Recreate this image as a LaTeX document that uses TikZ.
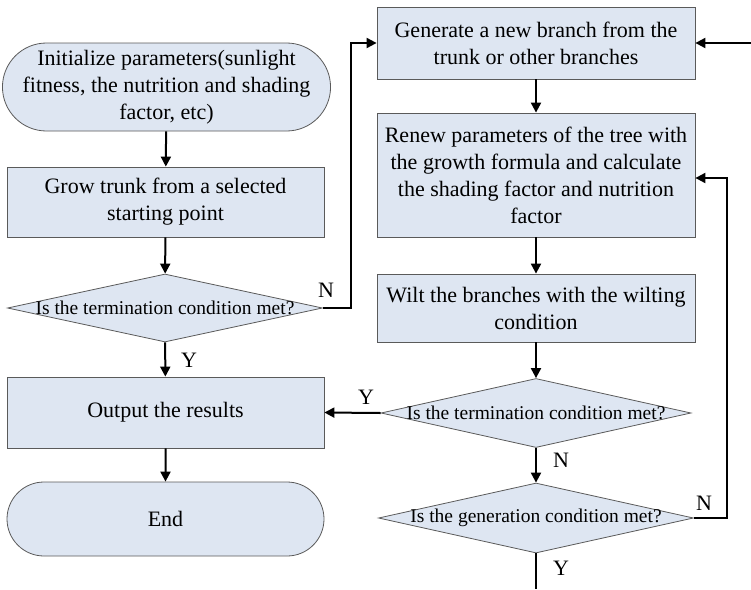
\documentclass[tikz,border=0pt]{standalone}
\usepackage{fontspec}
\setmainfont{Liberation Serif}
\usetikzlibrary{shapes.geometric,shapes.misc,arrows.meta}
\definecolor{boxfill}{HTML}{DEE6F2}
\definecolor{boxline}{HTML}{5A5A5A}
\begin{document}
\begin{tikzpicture}[x=1pt,y=-1pt,
  base/.style={draw=boxline, fill=boxfill, line width=0.8pt, inner sep=0pt, align=center, font=\fontsize{22}{27}\selectfont},
  proc/.style={base, rectangle},
  term/.style={base, rounded rectangle},
  dec/.style={base, diamond, font=\fontsize{19.5}{23}\selectfont},
  conn/.style={line width=2pt, -{Triangle[length=10pt,width=10pt]}},
  lab/.style={font=\fontsize{22}{26}\selectfont, inner sep=0pt}]
\useasboundingbox (0,0) rectangle (751,589);
% left column
\node[term, minimum width=319pt, minimum height=88pt] (start) at (166.5,87)
  {Initialize parameters(sunlight\\fitness, the nutrition and shading\\factor, etc)};
\node[proc, minimum width=317pt, minimum height=70pt] (grow) at (165.5,202)
  {Grow trunk from a selected\\starting point};
\node[dec, minimum width=315pt, minimum height=68pt] (d1) at (165,308)
  {\makebox[0pt]{Is the termination condition met?}};
\node[proc, minimum width=317pt, minimum height=71pt] (output) at (165.5,412.5)
  {Output the results};
\node[term, minimum width=317pt, minimum height=74pt] (end) at (165.5,519)
  {End};
% right column
\node[proc, minimum width=318pt, minimum height=72pt] (gen) at (536,43)
  {Generate a new branch from the\\trunk or other branches};
\node[proc, minimum width=318pt, minimum height=124pt] (renew) at (536,175)
  {Renew parameters of the tree with\\the growth formula and calculate\\the shading factor and nutrition\\factor};
\node[proc, minimum width=318pt, minimum height=68pt] (wilt) at (536,308)
  {Wilt the branches with the wilting\\condition};
\node[dec, minimum width=310pt, minimum height=69pt] (d2) at (536,413)
  {\makebox[0pt]{Is the termination condition met?}};
\node[dec, minimum width=315pt, minimum height=70pt] (d3) at (536,518)
  {\makebox[0pt]{Is the generation condition met?}};
\coordinate (rin) at (751,43);
\coordinate (dout) at (536,589);
% connectors
\draw[conn] (start) -- (grow);
\draw[conn] (grow) -- (d1);
\draw[conn] (d1) -- (output);
\draw[conn] (output) -- (end);
\draw[conn] (d1.east) -- ++(28,0) |- (gen.west);
\draw[conn] (rin) -- (gen.east);
\draw[conn] (gen) -- (renew);
\draw[conn] (renew) -- (wilt);
\draw[conn] (wilt) -- (d2);
\draw[conn] (d2) -- (d3);
\draw[conn] (d2.west) -- (output.east);
\draw[conn] (d3.east) -- ++(33,0) |- ([yshift=-3pt]renew.east);
\draw[line width=2pt] (d3.south) -- (dout);
% labels
\node[lab] (lY1) at (189,360) {Y};
\node[lab] (lN1) at (326,290) {N};
\node[lab] (lY2) at (366,397) {Y};
\node[lab] (lN2) at (561,460) {N};
\node[lab] (lN3) at (704,503) {N};
\node[lab] (lY3) at (561,568) {Y};
\end{tikzpicture}
\end{document}
